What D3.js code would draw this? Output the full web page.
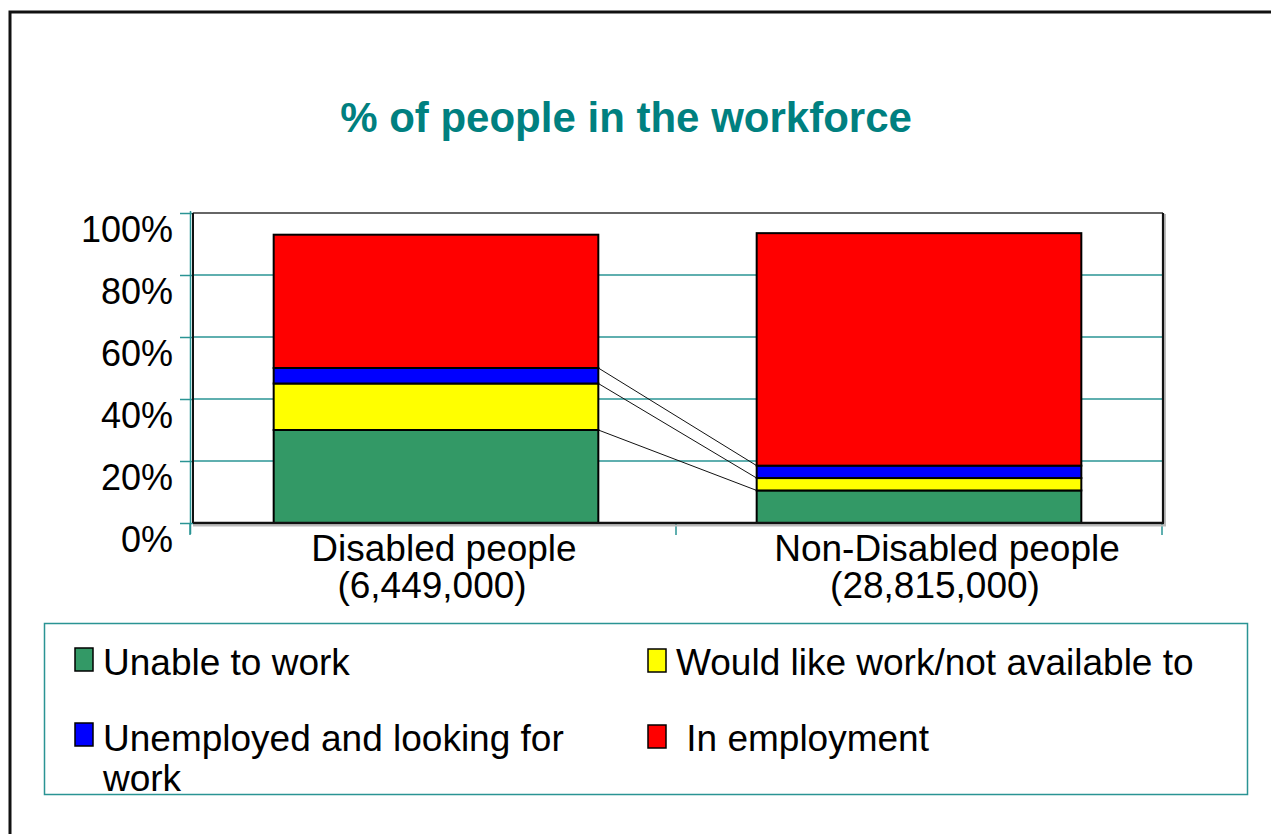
<!DOCTYPE html>
<html>
<head>
<meta charset="utf-8">
<script src="https://cdn.jsdelivr.net/npm/d3@7"></script>
<style>
  html, body { margin: 0; padding: 0; background: #fff; }
  svg { display: block; font-family: "Liberation Sans", Arial, sans-serif; }
  text { white-space: pre; }
</style>
</head>
<body>
<svg id="chart" width="1271" height="834"></svg>
<script>
// Categories and their population counts
const categories = ["Disabled people", "Non-Disabled people"];
const populations = ["(6,449,000)", "(28,815,000)"];

// Stacked series, % of people (bottom to top)
const seriesNames = ["Unable to work", "Would like work/not available to", "Unemployed and looking for work", "In employment"];
const unableToWork = [30, 10.5];
const wouldLikeWork = [15, 4];
const unemployedLooking = [5, 4];
const inEmployment = [43, 75];

const yTicks = [0, 20, 40, 60, 80, 100];
const seriesColors = ["#339966", "#FFFF00", "#0000FF", "#FF0000"];

const svg = d3.select("#chart");
const teal = "#2a9494";

// outer frame (top and left edges)
svg.append("path")
  .attr("d", "M10,834 V12 H1271")
  .attr("fill", "none").attr("stroke", "#111").attr("stroke-width", 3);

// title
svg.append("text")
  .attr("x", 626).attr("y", 132)
  .attr("text-anchor", "middle")
  .attr("font-size", 42).attr("font-weight", "bold")
  .attr("fill", "#008080")
  .text("% of people in the workforce");

// plot area
const plot = { left: 193, right: 1163, top: 213, bottom: 523 };
const y = d3.scaleLinear().domain([0, 100]).range([plot.bottom, plot.top]);
const x = d3.scaleBand().domain(categories).range([190, 1162]);

// gridlines
svg.append("g").selectAll("line")
  .data(yTicks.filter(d => d > 0 && d < 100))
  .join("line")
  .attr("x1", plot.left).attr("x2", plot.right)
  .attr("y1", d => y(d)).attr("y2", d => y(d))
  .attr("stroke", teal).attr("stroke-width", 1.5);

// y axis with teal ticks and percentage labels
const yAxis = svg.append("g")
  .attr("transform", `translate(${plot.left},0)`)
  .call(d3.axisLeft(y).tickValues(yTicks).tickSize(13).tickPadding(7).tickFormat(d => d + "%"));
yAxis.select(".domain").remove();
yAxis.selectAll(".tick line").attr("stroke", teal).attr("stroke-width", 1.5);
yAxis.selectAll(".tick text")
  .attr("dy", "0.8em")
  .attr("font-size", 36).attr("fill", "#000")
  .attr("font-family", "Liberation Sans, Arial, sans-serif");

// teal value-axis line
svg.append("line")
  .attr("x1", 190.5).attr("x2", 190.5).attr("y1", 211).attr("y2", 534)
  .attr("stroke", teal).attr("stroke-width", 1.5);

// category axis tick marks at band boundaries
const bounds = categories.map(c => x(c)).concat([x(categories[categories.length - 1]) + x.bandwidth()]);
svg.append("g").selectAll("line")
  .data(bounds).join("line")
  .attr("x1", d => d).attr("x2", d => d)
  .attr("y1", plot.bottom).attr("y2", plot.bottom + 12)
  .attr("stroke", teal).attr("stroke-width", 1.5);

// stacked data
const rows = categories.map((c, i) => ({
  category: c,
  s0: unableToWork[i], s1: wouldLikeWork[i], s2: unemployedLooking[i], s3: inEmployment[i]
}));
const keys = ["s0", "s1", "s2", "s3"];
const stacked = d3.stack().keys(keys)(rows);

const barW = x.bandwidth() * 0.668;
const barX = c => x(c) + (x.bandwidth() - barW) / 2 + (categories.indexOf(c) === 0 ? 3 : 0);

// series lines between the bars
const lineLevels = stacked.slice(0, 3);
svg.append("g").selectAll("line")
  .data(lineLevels).join("line")
  .attr("x1", barX(categories[0]) + barW)
  .attr("x2", barX(categories[1]))
  .attr("y1", s => y(s[0][1]))
  .attr("y2", s => y(s[1][1]))
  .attr("stroke", "#111").attr("stroke-width", 1);

// bars
svg.append("g").selectAll("g")
  .data(stacked).join("g")
  .attr("fill", (s, i) => seriesColors[i])
  .selectAll("rect")
  .data(s => s).join("rect")
  .attr("x", d => barX(d.data.category))
  .attr("width", barW)
  .attr("y", d => y(d[1]))
  .attr("height", d => y(d[0]) - y(d[1]))
  .attr("stroke", "#000").attr("stroke-width", 2);

// plot area border
svg.append("line").attr("x1", plot.left).attr("x2", plot.right).attr("y1", plot.top).attr("y2", plot.top)
  .attr("stroke", "#333").attr("stroke-width", 1.5);
svg.append("line").attr("x1", plot.right + 2).attr("x2", plot.right + 2).attr("y1", plot.top + 1).attr("y2", plot.bottom + 3)
  .attr("stroke", "#bbb").attr("stroke-width", 2);
svg.append("line").attr("x1", plot.right).attr("x2", plot.right).attr("y1", plot.top).attr("y2", plot.bottom)
  .attr("stroke", "#111").attr("stroke-width", 2.2);
svg.append("line").attr("x1", plot.left).attr("x2", plot.right + 3).attr("y1", plot.bottom + 2.5).attr("y2", plot.bottom + 2.5)
  .attr("stroke", "#bbb").attr("stroke-width", 2);
svg.append("line").attr("x1", plot.left).attr("x2", plot.right + 1).attr("y1", plot.bottom).attr("y2", plot.bottom)
  .attr("stroke", "#111").attr("stroke-width", 2.5);
svg.append("line").attr("x1", plot.left).attr("x2", plot.left).attr("y1", plot.top).attr("y2", plot.bottom)
  .attr("stroke", "#111").attr("stroke-width", 2);

// category labels (two lines each)
const labelShift = [[11, -1], [28, 16]];
const catLabels = svg.append("g").attr("font-size", 37).attr("text-anchor", "middle").attr("fill", "#000");
categories.forEach((c, i) => {
  const cx = x(c) + x.bandwidth() / 2;
  catLabels.append("text").attr("x", cx + labelShift[i][0]).attr("y", 561).text(c);
  catLabels.append("text").attr("x", cx + labelShift[i][1]).attr("y", 598).text(populations[i]);
});

// legend
svg.append("rect")
  .attr("x", 44.5).attr("y", 623.5).attr("width", 1203).attr("height", 171)
  .attr("fill", "none").attr("stroke", teal).attr("stroke-width", 1.5);

const legendLayout = [
  { sx: 75, sy: 648, ty: 675, lines: ["Unable to work"] },
  { sx: 648, sy: 649, ty: 675, lines: ["Would like work/not available to"] },
  { sx: 75, sy: 723, ty: 751, lines: ["Unemployed and looking for", "work"] },
  { sx: 648, sy: 725, ty: 751, lines: [" In employment"] }
];
const legend = svg.append("g");
seriesNames.forEach((name, i) => {
  const L = legendLayout[i];
  legend.append("rect")
    .attr("x", L.sx).attr("y", L.sy).attr("width", 18).attr("height", 23)
    .attr("fill", seriesColors[i]).attr("stroke", "#000").attr("stroke-width", 1.5);
  L.lines.forEach((ln, j) => {
    legend.append("text")
      .attr("x", L.sx + 28).attr("y", L.ty + j * 40)
      .attr("font-size", 37).attr("fill", "#000")
      .text(ln);
  });
});
</script>
</body>
</html>
